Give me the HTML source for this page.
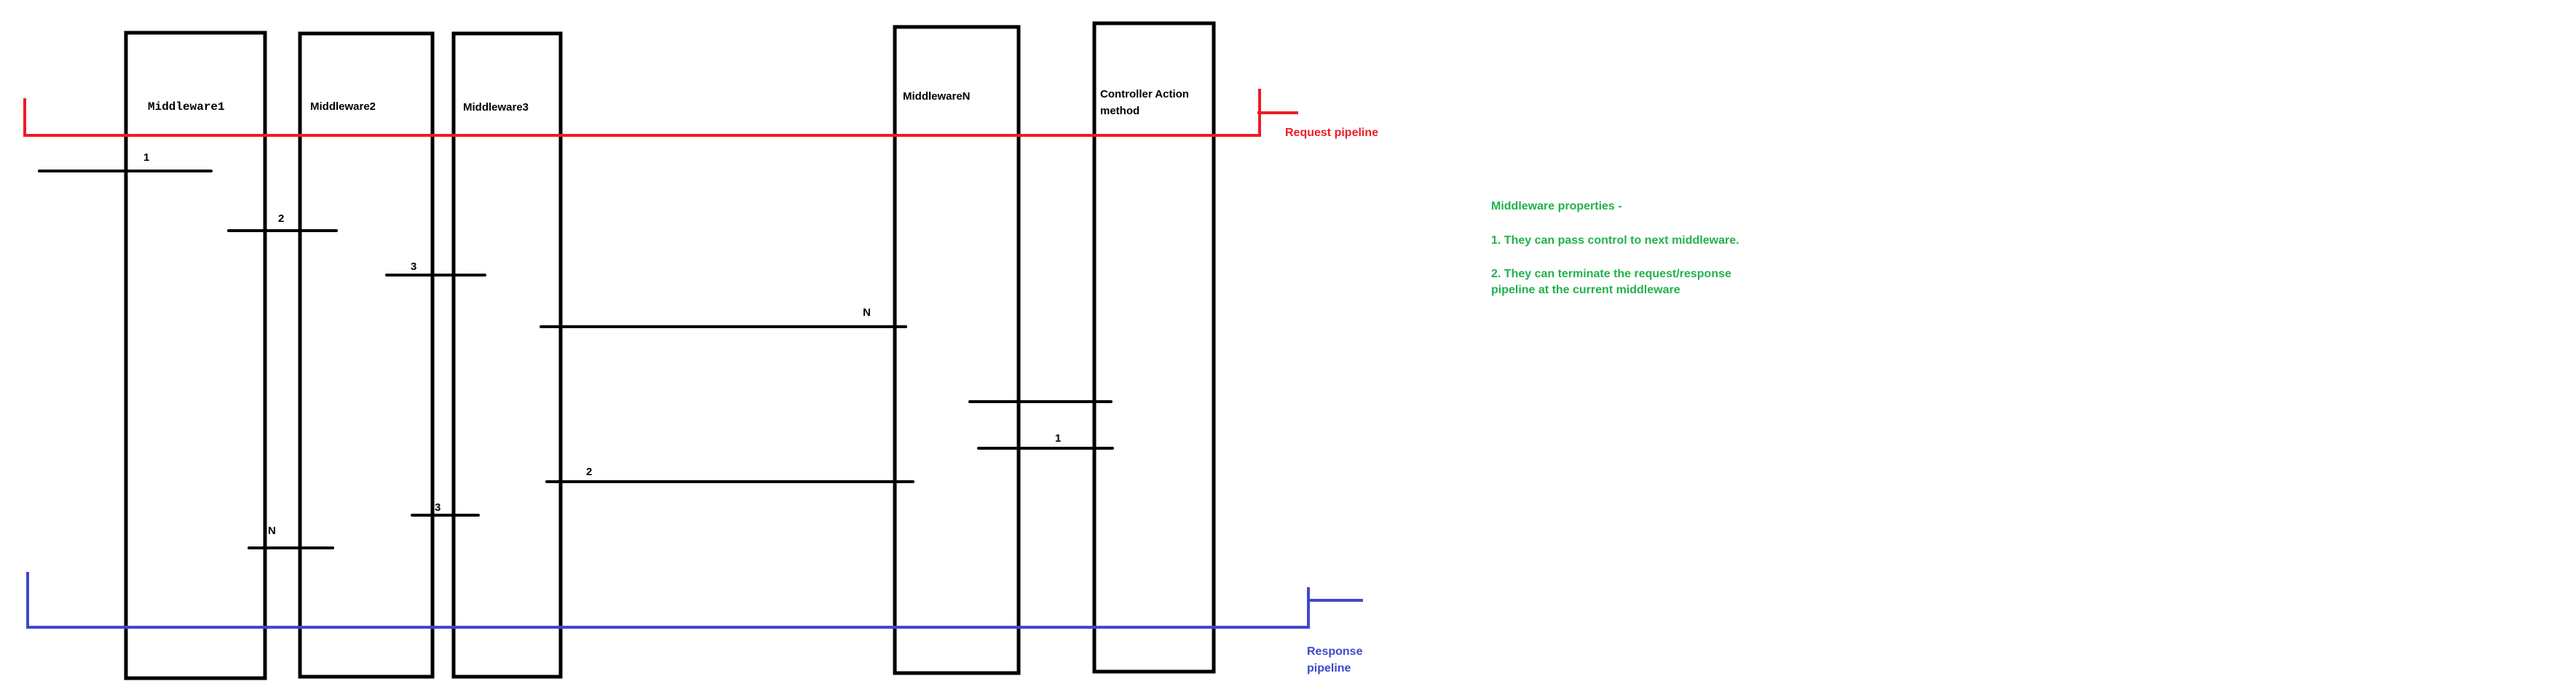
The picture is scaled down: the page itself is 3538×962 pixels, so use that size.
<!DOCTYPE html>
<html><head><meta charset="utf-8"><style>html,body{margin:0;padding:0;background:#fff}svg{display:block}</style></head>
<body>
<svg width="3538" height="962" viewBox="0 0 3538 962" xmlns="http://www.w3.org/2000/svg">
<rect width="3538" height="962" fill="#fff"/>
<g fill="none" stroke="#000" stroke-width="5">
<rect x="173" y="45" width="191" height="887"/>
<rect x="412" y="46" width="182" height="884"/>
<rect x="623" y="46" width="147" height="884"/>
<rect x="1229" y="37" width="170" height="888"/>
<rect x="1503" y="32" width="164" height="891"/>
</g>
<g stroke="#000" stroke-width="4" stroke-linecap="round">
<line x1="54" y1="235" x2="290" y2="235"/>
<line x1="314" y1="317" x2="462" y2="317"/>
<line x1="531" y1="378" x2="666" y2="378"/>
<line x1="743" y1="449" x2="1244" y2="449"/>
<line x1="751" y1="662" x2="1254" y2="662"/>
<line x1="566" y1="708" x2="657" y2="708"/>
<line x1="342" y1="753" x2="457" y2="753"/>
<line x1="1332" y1="552" x2="1526" y2="552"/>
<line x1="1344" y1="616" x2="1528" y2="616"/>
</g>
<g stroke="#ed1c24" stroke-width="4" fill="none">
<polyline points="34,135 34,186 1730,186 1730,122"/>
<line x1="1727" y1="155" x2="1783" y2="155"/>
</g>
<g stroke="#3f48cc" stroke-width="4" fill="none">
<polyline points="38,786 38,862 1799,862"/>
<line x1="1797" y1="807" x2="1797" y2="864"/>
<line x1="1797" y1="825" x2="1872" y2="825"/>
</g>
<g font-family="Liberation Sans, sans-serif" font-weight="bold" font-size="15" fill="#000">
<text x="203" y="151" font-family="Liberation Mono, monospace" font-size="16">Middleware1</text>
<text x="426" y="151">Middleware2</text>
<text x="636" y="152">Middleware3</text>
<text x="1240" y="137">MiddlewareN</text>
<text x="1511" y="134">Controller Action</text>
<text x="1511" y="157">method</text>
<text x="197" y="221">1</text>
<text x="382" y="305">2</text>
<text x="564" y="371">3</text>
<text x="1185" y="434">N</text>
<text x="805" y="653">2</text>
<text x="597" y="702">3</text>
<text x="368" y="734">N</text>
<text x="1449" y="607">1</text>
</g>
<g font-family="Liberation Sans, sans-serif" font-weight="bold" font-size="16">
<text x="1765" y="187" fill="#ed1c24">Request pipeline</text>
<text x="1795" y="900" fill="#3f48cc">Response</text>
<text x="1795" y="923" fill="#3f48cc">pipeline</text>
<g fill="#22b14c">
<text x="2048" y="288">Middleware properties -</text>
<text x="2048" y="335">1. They can pass control to next middleware.</text>
<text x="2048" y="381">2. They can terminate the request/response</text>
<text x="2048" y="403">pipeline at the current middleware</text>
</g>
</g>
</svg>
</body></html>
